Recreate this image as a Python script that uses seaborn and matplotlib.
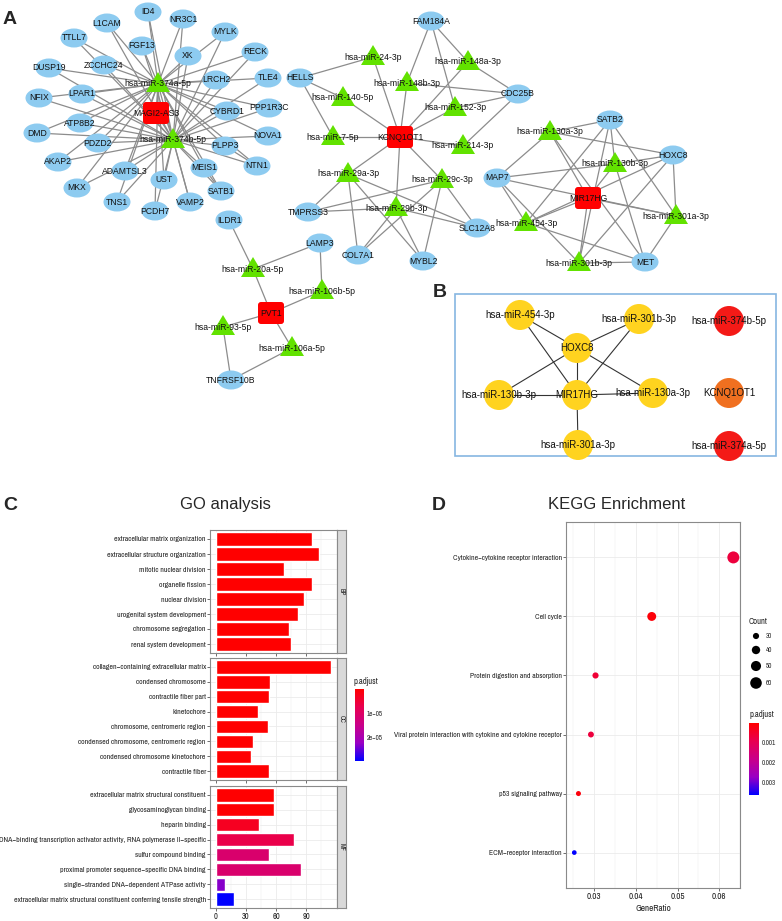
import numpy as np
import pandas as pd
import matplotlib
matplotlib.use("Agg")
import matplotlib.pyplot as plt
from matplotlib.patches import Ellipse, Polygon, FancyBboxPatch, Rectangle, Circle
from matplotlib.colors import LinearSegmentedColormap, Normalize
from matplotlib.cm import ScalarMappable
import seaborn as sns

# ---------------- data ----------------
# Panel A: ceRNA network (lncRNA - miRNA - mRNA)
lnc_a = ["MAGI2-AS3", "KCNQ1OT1", "MIR17HG", "PVT1"]
mir_a = ["hsa-miR-374a-5p", "hsa-miR-374b-5p",
         "hsa-miR-24-3p", "hsa-miR-148a-3p", "hsa-miR-148b-3p", "hsa-miR-140-5p",
         "hsa-miR-152-3p", "hsa-miR-7-5p", "hsa-miR-214-3p", "hsa-miR-29a-3p",
         "hsa-miR-29c-3p", "hsa-miR-29b-3p",
         "hsa-miR-130a-3p", "hsa-miR-130b-3p", "hsa-miR-454-3p", "hsa-miR-301a-3p",
         "hsa-miR-301b-3p",
         "hsa-miR-20a-5p", "hsa-miR-106b-5p", "hsa-miR-93-5p", "hsa-miR-106a-5p"]
genes_magi = ["ID4", "L1CAM", "NR3C1", "MYLK", "TTLL7", "FGF13", "XK", "RECK", "DUSP19",
              "ZCCHC24", "LRCH2", "TLE4", "NFIX", "LPAR1", "CYBRD1", "PPP1R3C", "ATP8B2",
              "DMD", "PDZD2", "NOVA1", "PLPP3", "AKAP2", "NTN1", "ADAMTSL3", "UST", "MEIS1",
              "MKX", "SATB1", "TNS1", "VAMP2", "PCDH7"]
genes_other = ["HELLS", "FAM184A", "CDC25B", "TMPRSS3", "COL7A1", "MYBL2", "SLC12A8",
               "SATB2", "HOXC8", "MAP7", "MET", "ILDR1", "LAMP3", "TNFRSF10B"]

edges_a = [("MAGI2-AS3", "hsa-miR-374a-5p"), ("MAGI2-AS3", "hsa-miR-374b-5p")]
edges_a += [(m, g) for m in ["hsa-miR-374a-5p", "hsa-miR-374b-5p"] for g in genes_magi]
edges_a += [("PLPP3", "NTN1"), ("MEIS1", "SATB1")]
edges_a += [("KCNQ1OT1", m) for m in ["hsa-miR-24-3p", "hsa-miR-148a-3p", "hsa-miR-148b-3p",
                                      "hsa-miR-140-5p", "hsa-miR-152-3p", "hsa-miR-7-5p",
                                      "hsa-miR-214-3p", "hsa-miR-29a-3p", "hsa-miR-29c-3p",
                                      "hsa-miR-29b-3p"]]
edges_a += [("HELLS", "hsa-miR-24-3p"), ("HELLS", "hsa-miR-140-5p"), ("HELLS", "hsa-miR-7-5p"),
            ("FAM184A", "hsa-miR-148a-3p"), ("FAM184A", "hsa-miR-148b-3p"),
            ("FAM184A", "hsa-miR-152-3p"), ("CDC25B", "hsa-miR-148a-3p"),
            ("CDC25B", "hsa-miR-148b-3p"), ("CDC25B", "hsa-miR-152-3p"),
            ("CDC25B", "hsa-miR-214-3p")]
edges_a += [(m, g) for m in ["hsa-miR-29a-3p", "hsa-miR-29b-3p", "hsa-miR-29c-3p"]
            for g in ["TMPRSS3", "COL7A1", "MYBL2", "SLC12A8"]]
mir17_mirs = ["hsa-miR-130a-3p", "hsa-miR-130b-3p", "hsa-miR-454-3p", "hsa-miR-301a-3p",
              "hsa-miR-301b-3p"]
edges_a += [("MIR17HG", m) for m in mir17_mirs]
edges_a += [(g, m) for g in ["SATB2", "HOXC8", "MAP7", "MET"] for m in mir17_mirs]
edges_a += [("PVT1", m) for m in ["hsa-miR-20a-5p", "hsa-miR-106b-5p", "hsa-miR-93-5p",
                                  "hsa-miR-106a-5p"]]
edges_a += [("ILDR1", "hsa-miR-20a-5p"), ("LAMP3", "hsa-miR-20a-5p"),
            ("LAMP3", "hsa-miR-106b-5p"), ("TNFRSF10B", "hsa-miR-93-5p"),
            ("TNFRSF10B", "hsa-miR-106a-5p")]

# Panel B: hub network
hub_yellow = ["hsa-miR-454-3p", "hsa-miR-301b-3p", "HOXC8", "hsa-miR-130b-3p", "MIR17HG",
              "hsa-miR-130a-3p", "hsa-miR-301a-3p"]
hub_red = ["hsa-miR-374b-5p", "hsa-miR-374a-5p"]
hub_orange = ["KCNQ1OT1"]
edges_b = [("hsa-miR-454-3p", "HOXC8"), ("hsa-miR-454-3p", "MIR17HG"),
           ("hsa-miR-301b-3p", "HOXC8"), ("hsa-miR-301b-3p", "MIR17HG"),
           ("HOXC8", "hsa-miR-130b-3p"), ("HOXC8", "MIR17HG"), ("HOXC8", "hsa-miR-130a-3p"),
           ("hsa-miR-130b-3p", "MIR17HG"), ("MIR17HG", "hsa-miR-130a-3p"),
           ("MIR17HG", "hsa-miR-301a-3p")]

# Panel C: GO enrichment
go_bp_terms = ["extracellular matrix organization", "extracellular structure organization",
               "mitotic nuclear division", "organelle fission", "nuclear division",
               "urogenital system development", "chromosome segregation",
               "renal system development"]
go_bp_count = [96, 103, 68, 96, 88, 82, 73, 75]
go_bp_padj = [1e-9, 1e-9, 5e-8, 1e-8, 5e-8, 1e-7, 1e-7, 1e-7]
go_cc_terms = ["collagen\u2212containing extracellular matrix", "condensed chromosome",
               "contractile fiber part", "kinetochore", "chromosome, centromeric region",
               "condensed chromosome, centromeric region", "condensed chromosome kinetochore",
               "contractile fiber"]
go_cc_count = [115, 54, 53, 42, 52, 37, 35, 53]
go_cc_padj = [1e-10, 1e-8, 1e-8, 5e-8, 1e-7, 1e-7, 2e-7, 2e-7]
go_mf_terms = ["extracellular matrix structural constituent", "glycosaminoglycan binding",
               "heparin binding",
               "DNA\u2212binding transcription activator activity, RNA polymerase II\u2212specific",
               "sulfur compound binding", "proximal promoter sequence\u2212specific DNA binding",
               "single\u2212stranded DNA\u2212dependent ATPase activity",
               "extracellular matrix structural constituent conferring tensile strength"]
go_mf_count = [58, 58, 43, 78, 53, 85, 9, 18]
go_mf_padj = [2e-7, 3e-7, 3.0e-6, 6.8e-6, 1.1e-5, 1.1e-5, 2.3e-5, 2.95e-5]

# Panel D: KEGG enrichment
kegg_terms = ["Cytokine\u2212cytokine receptor interaction", "Cell cycle",
              "Protein digestion and absorption",
              "Viral protein interaction with cytokine and cytokine receptor",
              "p53 signaling pathway", "ECM\u2212receptor interaction"]
kegg_ratio = [0.0634, 0.0438, 0.0303, 0.0292, 0.0262, 0.0252]
kegg_count = [63, 43, 30, 29, 26, 25]
kegg_padj = [0.0007, 0.0001, 0.0006, 0.0007, 0.00015, 0.0036]
count_legend = [30, 40, 50, 60]

# ---------------- layout (pixel positions) ----------------
pos_a = {
    "ID4": (148, 12), "L1CAM": (107, 23), "NR3C1": (183, 19), "MYLK": (225, 32),
    "TTLL7": (74, 38), "FGF13": (142, 46), "XK": (188, 56), "RECK": (255, 52),
    "DUSP19": (49, 68), "ZCCHC24": (104, 65), "LRCH2": (216, 80), "TLE4": (268, 78),
    "NFIX": (39, 98), "LPAR1": (82, 94), "CYBRD1": (227, 111), "PPP1R3C": (269, 108),
    "ATP8B2": (80, 123), "DMD": (37, 133), "PDZD2": (98, 143), "NOVA1": (268, 136),
    "PLPP3": (225, 146), "AKAP2": (58, 162), "NTN1": (257, 166), "ADAMTSL3": (125, 171),
    "UST": (164, 180), "MEIS1": (204, 168), "MKX": (77, 188), "SATB1": (221, 191),
    "TNS1": (117, 202), "VAMP2": (190, 202), "PCDH7": (155, 211),
    "MAGI2-AS3": (156, 113), "hsa-miR-374a-5p": (158, 84), "hsa-miR-374b-5p": (173, 140),
    "HELLS": (300, 78), "FAM184A": (431, 21), "CDC25B": (518, 94),
    "hsa-miR-24-3p": (373, 57), "hsa-miR-148a-3p": (468, 62), "hsa-miR-148b-3p": (407, 83),
    "hsa-miR-140-5p": (343, 98), "hsa-miR-152-3p": (455, 108), "hsa-miR-7-5p": (333, 137),
    "KCNQ1OT1": (400, 137), "hsa-miR-214-3p": (463, 146), "hsa-miR-29a-3p": (348, 174),
    "hsa-miR-29c-3p": (442, 180), "hsa-miR-29b-3p": (396, 208), "TMPRSS3": (308, 212),
    "SLC12A8": (477, 228), "COL7A1": (358, 255), "MYBL2": (423, 261),
    "SATB2": (610, 120), "hsa-miR-130a-3p": (550, 132), "HOXC8": (673, 155),
    "hsa-miR-130b-3p": (615, 164), "MAP7": (497, 178), "MIR17HG": (588, 198),
    "hsa-miR-454-3p": (526, 223), "hsa-miR-301a-3p": (676, 216),
    "hsa-miR-301b-3p": (579, 263), "MET": (645, 262),
    "ILDR1": (229, 220), "LAMP3": (320, 243), "hsa-miR-20a-5p": (253, 269),
    "hsa-miR-106b-5p": (322, 291), "PVT1": (271, 313), "hsa-miR-93-5p": (223, 327),
    "hsa-miR-106a-5p": (292, 348), "TNFRSF10B": (231, 380),
}
pos_b = {
    "hsa-miR-454-3p": (520, 315), "hsa-miR-301b-3p": (639, 319), "hsa-miR-374b-5p": (729, 321),
    "HOXC8": (577, 348), "hsa-miR-130b-3p": (499, 395), "MIR17HG": (577, 395),
    "hsa-miR-130a-3p": (653, 393), "KCNQ1OT1": (729, 393), "hsa-miR-301a-3p": (578, 445),
    "hsa-miR-374a-5p": (729, 446),
}

# ---------------- style ----------------
sns.set_theme(style="white")
plt.rcParams["font.family"] = ["Liberation Sans", "DejaVu Sans"]
NARROW = ["Archivo Narrow", "DejaVu Sans"]
GENE_C, MIR_C, LNC_C = "#8DCBF0", "#62E200", "#FF0000"
EDGE_C = "#8C8C8C"
GRID_C = "#EBEBEB"
BORDER_C = "#8A8A8A"
rb_cmap = LinearSegmentedColormap.from_list(
    "rb", ["#FF0000", "#E80050", "#C90089", "#9A00C3", "#0000FF"])

W, H = 782, 921
fig = plt.figure(figsize=(W / 100, H / 100), dpi=100)


def frac(x0, y0, x1, y1):
    return [x0 / W, 1 - y1 / H, (x1 - x0) / W, (y1 - y0) / H]


ov = fig.add_axes([0, 0, 1, 1])
ov.set_xlim(0, W)
ov.set_ylim(H, 0)
ov.axis("off")
ov.patch.set_alpha(0)

# ---------------- panel A ----------------
for a, b in edges_a:
    (x1, y1), (x2, y2) = pos_a[a], pos_a[b]
    ov.plot([x1, x2], [y1, y2], color=EDGE_C, lw=0.9, zorder=1)

for g in genes_magi + genes_other:
    x, y = pos_a[g]
    ov.add_patch(Ellipse((x, y), 27, 19, fc=GENE_C, ec="none", zorder=2))
for m in mir_a:
    x, y = pos_a[m]
    ov.add_patch(Polygon([(x, y - 12), (x - 12, y + 8), (x + 12, y + 8)],
                         closed=True, fc=MIR_C, ec="none", zorder=2))
for l in lnc_a:
    x, y = pos_a[l]
    ov.add_patch(FancyBboxPatch((x - 13, y - 11), 26, 22,
                                boxstyle="round,pad=0,rounding_size=3",
                                fc=LNC_C, ec="none", zorder=3))
for n in genes_magi + genes_other + mir_a + lnc_a:
    x, y = pos_a[n]
    ov.text(x, y, n, fontsize=6.2, ha="center", va="center", color="#111111", zorder=5)

# ---------------- panel B ----------------
ov.add_patch(Rectangle((455, 294), 321, 162, fc="none", ec="#86B6E2", lw=1.2, zorder=1))
for a, b in edges_b:
    (x1, y1), (x2, y2) = pos_b[a], pos_b[b]
    ov.plot([x1, x2], [y1, y2], color="#333333", lw=0.8, zorder=1)
for names, col in [(hub_yellow, "#FFD31F"), (hub_red, "#F41A17"), (hub_orange, "#F07020")]:
    for n in names:
        x, y = pos_b[n]
        ov.add_patch(Circle((x, y), 15, fc=col, ec="none", zorder=2))
        ov.text(x, y, n, fontsize=7, ha="center", va="center", color="#111111", zorder=5)

# panel letters and titles
for lbl, (x, y) in {"A": (3, 19), "B": (433, 292), "C": (3, 505), "D": (432, 505)}.items():
    ov.text(x, y, lbl, fontsize=14, fontweight="bold", ha="left", va="center")
ov.text(225, 504, "GO analysis", fontsize=12, ha="center", va="center")
ov.text(617, 504, "KEGG Enrichment", fontsize=12, ha="center", va="center")

# ---------------- panel C ----------------
go_norm = Normalize(vmin=0, vmax=2.95e-5)
facets = [
    (go_bp_terms, go_bp_count, go_bp_padj, "BP", (530, 653)),
    (go_cc_terms, go_cc_count, go_cc_padj, "CC", (658, 780)),
    (go_mf_terms, go_mf_count, go_mf_padj, "MF", (786, 908)),
]
for terms, counts, padj, strip, (y0, y1) in facets:
    ax = fig.add_axes(frac(210, y0, 337, y1))
    df = pd.DataFrame({"term": terms, "Count": counts})
    pal = {t: rb_cmap(go_norm(p)) for t, p in zip(terms, padj)}
    sns.barplot(data=df, x="Count", y="term", hue="term", palette=pal, legend=False,
                width=0.9, saturation=1, orient="h", ax=ax)
    ax.set_xlim(-5.75, 120.75)
    ax.set_ylim(len(terms) - 1 + 0.6, -0.6)
    ax.set_xticks([0, 30, 60, 90])
    ax.set_xticks([15, 45, 75, 105], minor=True)
    ax.grid(True, which="major", color=GRID_C, lw=0.6)
    ax.grid(True, which="minor", axis="x", color=GRID_C, lw=0.35)
    ax.set_axisbelow(True)
    ax.set_xlabel("")
    ax.set_ylabel("")
    ax.tick_params(axis="y", left=True, length=2, width=0.5, color="#333333",
                   labelsize=5.6, pad=1, labelcolor="#222222")
    ax.tick_params(axis="x", bottom=True, length=2, width=0.5, color="#333333",
                   labelsize=6, pad=1, labelcolor="#222222")
    ax.tick_params(axis="x", which="minor", bottom=False)
    if strip != "MF":
        ax.set_xticklabels([])
    for t in ax.get_yticklabels() + ax.get_xticklabels():
        t.set_fontfamily(NARROW)
    for s in ax.spines.values():
        s.set_color(BORDER_C)
        s.set_linewidth(0.8)
    sx = fig.add_axes(frac(337, y0, 346, y1))
    sx.set_facecolor("#D9D9D9")
    sx.set_xticks([])
    sx.set_yticks([])
    for s in sx.spines.values():
        s.set_color(BORDER_C)
        s.set_linewidth(0.8)
    sx.text(0.5, 0.5, strip, rotation=-90, fontsize=4.8, ha="center", va="center",
            transform=sx.transAxes, family=NARROW, color="#222222")

cbc = fig.add_axes(frac(355, 689, 364, 761))
cb = fig.colorbar(ScalarMappable(norm=go_norm, cmap=rb_cmap), cax=cbc)
cbc.invert_yaxis()
cb.set_ticks([1e-5, 2e-5])
cb.set_ticklabels(["1e\u221205", "2e\u221205"])
cb.outline.set_visible(False)
cbc.tick_params(length=2, width=0.5, color="white", labelsize=5, pad=2, direction="in")
for t in cbc.get_yticklabels():
    t.set_fontfamily(NARROW)
ov.text(353, 681, "p.adjust", fontsize=6.2, ha="left", va="center", family=NARROW)

# ---------------- panel D ----------------
def count_area(c):
    d_px = np.sqrt(max(3.2 * c - 58, 16))
    return (d_px * 0.72) ** 2


kegg_norm = Normalize(vmin=1e-5, vmax=0.0036)
axd = fig.add_axes(frac(566, 522, 740, 888))
dfk = pd.DataFrame({"GeneRatio": kegg_ratio, "pos": np.arange(len(kegg_terms)),
                    "Count": kegg_count, "p.adjust": kegg_padj})
sns.scatterplot(data=dfk, x="GeneRatio", y="pos", hue="p.adjust", palette=rb_cmap,
                hue_norm=kegg_norm, size="Count",
                sizes={c: count_area(c) for c in kegg_count},
                legend=False, edgecolor="none", ax=axd, zorder=3)
axd.set_xlim(0.02321, 0.06497)
axd.set_ylim(len(kegg_terms) - 1 + 0.6, -0.6)
axd.set_yticks(np.arange(len(kegg_terms)))
axd.set_yticklabels(kegg_terms)
axd.set_xticks([0.03, 0.04, 0.05, 0.06])
axd.set_xticklabels(["0.03", "0.04", "0.05", "0.06"])
axd.set_xticks([0.025, 0.035, 0.045, 0.055, 0.065], minor=True)
axd.grid(True, which="major", color=GRID_C, lw=0.6)
axd.grid(True, which="minor", axis="x", color=GRID_C, lw=0.35)
axd.set_axisbelow(True)
axd.set_ylabel("")
axd.set_xlabel("GeneRatio", fontsize=6.5, family=NARROW, labelpad=2, color="#222222")
axd.tick_params(axis="y", left=True, length=2, width=0.5, color="#333333",
                labelsize=5.5, pad=1, labelcolor="#222222")
axd.tick_params(axis="x", bottom=True, length=2, width=0.5, color="#333333",
                labelsize=6.5, pad=1, labelcolor="#222222")
axd.tick_params(axis="x", which="minor", bottom=False)
for t in axd.get_yticklabels() + axd.get_xticklabels():
    t.set_fontfamily(NARROW)
for s in axd.spines.values():
    s.set_color(BORDER_C)
    s.set_linewidth(0.8)

# Count legend
ov.text(749, 621, "Count", fontsize=6.2, ha="left", va="center", family=NARROW)
for c, y in zip(count_legend, [636, 650, 666, 683]):
    ov.scatter([756], [y], s=count_area(c), color="black", edgecolor="none", zorder=4)
    ov.text(766, y, str(c), fontsize=5, ha="left", va="center", family=NARROW)

cbd = fig.add_axes(frac(749, 723, 759, 795))
cb2 = fig.colorbar(ScalarMappable(norm=kegg_norm, cmap=rb_cmap), cax=cbd)
cbd.invert_yaxis()
cb2.set_ticks([0.001, 0.002, 0.003])
cb2.set_ticklabels(["0.001", "0.002", "0.003"])
cb2.outline.set_visible(False)
cbd.tick_params(length=2, width=0.5, color="white", labelsize=5, pad=2, direction="in")
for t in cbd.get_yticklabels():
    t.set_fontfamily(NARROW)
ov.text(749, 714, "p.adjust", fontsize=6.2, ha="left", va="center", family=NARROW)

fig.savefig("out.png", dpi=100)
